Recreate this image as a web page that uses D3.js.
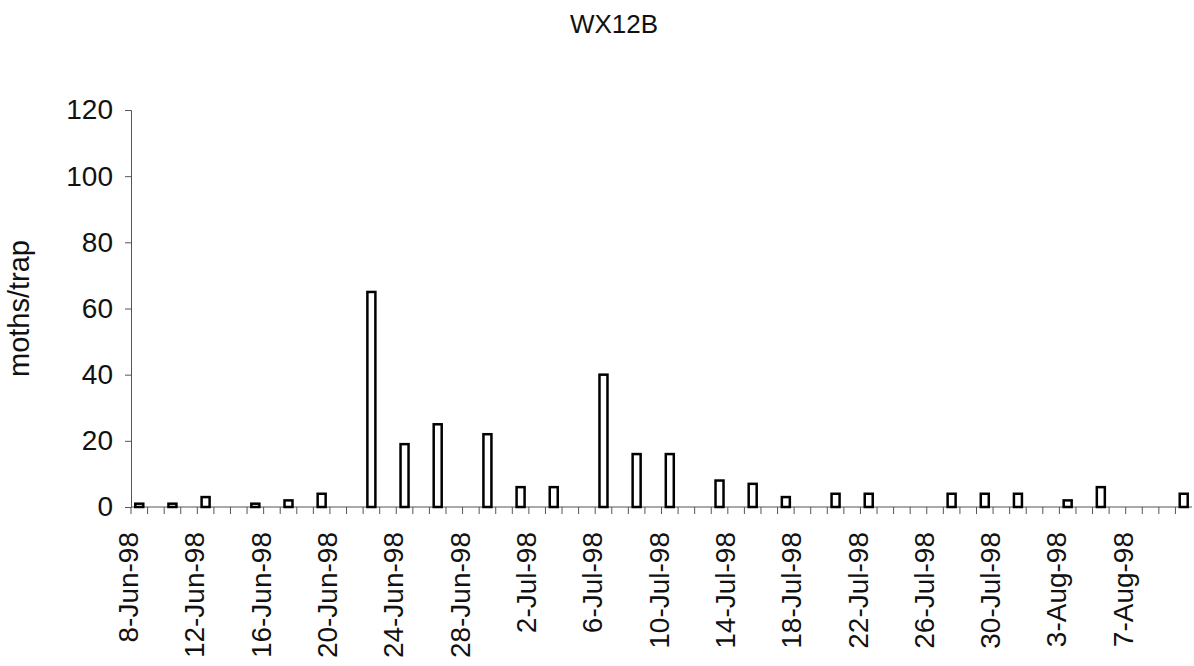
<!DOCTYPE html>
<html>
<head>
<meta charset="utf-8">
<script src="https://cdn.jsdelivr.net/npm/d3@7"></script>
<style>
body { margin: 0; background: #fff; }
text { font-family: "Liberation Sans", Arial, sans-serif; fill: #111; }
</style>
</head>
<body>
<script>
var width = 1194;
var height = 666;

// daily categories 8-Jun-98 .. 10-Aug-98
var dates = ["8-Jun-98","9-Jun-98","10-Jun-98","11-Jun-98","12-Jun-98","13-Jun-98","14-Jun-98",
"15-Jun-98","16-Jun-98","17-Jun-98","18-Jun-98","19-Jun-98","20-Jun-98","21-Jun-98","22-Jun-98",
"23-Jun-98","24-Jun-98","25-Jun-98","26-Jun-98","27-Jun-98","28-Jun-98","29-Jun-98","30-Jun-98",
"1-Jul-98","2-Jul-98","3-Jul-98","4-Jul-98","5-Jul-98","6-Jul-98","7-Jul-98","8-Jul-98","9-Jul-98",
"10-Jul-98","11-Jul-98","12-Jul-98","13-Jul-98","14-Jul-98","15-Jul-98","16-Jul-98","17-Jul-98",
"18-Jul-98","19-Jul-98","20-Jul-98","21-Jul-98","22-Jul-98","23-Jul-98","24-Jul-98","25-Jul-98",
"26-Jul-98","27-Jul-98","28-Jul-98","29-Jul-98","30-Jul-98","31-Jul-98","1-Aug-98","2-Aug-98",
"3-Aug-98","4-Aug-98","5-Aug-98","6-Aug-98","7-Aug-98","8-Aug-98","9-Aug-98","10-Aug-98"];

// trap counts (null = no count that day)
var moths = [1,null,1,null,3,null,null,1,null,2,null,4,null,null,65,
null,19,null,25,null,null,22,null,6,null,6,null,null,40,null,16,null,
16,null,null,8,null,7,null,3,null,null,4,null,4,null,null,null,
null,4,null,4,null,4,null,null,2,null,6,null,null,null,null,4];

var yTicks = [0,20,40,60,80,100,120];

var padding = {top:110,right:2,bottom:159,left:131};

var svg = d3.select("body")
.append("svg")
.attr("width",width)
.attr("height",height);

var xScale = d3.scaleBand()
.domain(dates)
.range([padding.left,width - padding.right])
.padding(0);

var yScale = d3.scaleLinear()
.domain([0,120])
.range([height - padding.bottom,padding.top]);

var bw = xScale.bandwidth();

// title
svg.append("text")
.attr("x",614)
.attr("y",33)
.attr("text-anchor","middle")
.attr("font-size","26px")
.text("WX12B");

// y axis title
svg.append("text")
.attr("transform","translate(29," + yScale(60) + ") rotate(-90)")
.attr("text-anchor","middle")
.attr("font-size","29px")
.text("moths/trap");

// y axis
var yAxis = d3.axisLeft(yScale).tickValues(yTicks).tickSize(6).tickPadding(12);
var gy = svg.append("g")
.attr("transform","translate(" + padding.left + ",0)")
.call(yAxis);
gy.selectAll("text").attr("font-size","28px").style("font-family","Liberation Sans, Arial, sans-serif").attr("fill","#111");
gy.selectAll("line,path").attr("stroke","#555");

// x axis, ticks between categories
var xAxis = d3.axisBottom(xScale).tickSize(7).tickFormat("");
var gx = svg.append("g")
.attr("transform","translate(0," + yScale(0) + ")")
.call(xAxis);
gx.selectAll(".tick line").attr("transform","translate(" + (-bw/2) + ",0)");
gx.select(".domain").attr("d","M" + padding.left + ",0H" + (width - padding.right));
gx.selectAll("line,path").attr("stroke","#555");

// date labels, every 4th day
svg.selectAll(".xlabel")
.data(dates.filter(function(d,i){ return i % 4 == 0; }))
.enter()
.append("text")
.attr("class","xlabel")
.attr("font-size","28px")
.attr("text-anchor","end")
.attr("transform",function(d){
	var cx = xScale(d) + bw/2 - 11;
	return "translate(" + cx + "," + (yScale(0) + 25) + ") rotate(-90)";
})
.attr("dy","0.35em")
.text(function(d){ return d; });

// bars
var data = dates.map(function(d,i){ return {date:d, value:moths[i]}; })
.filter(function(d){ return d.value != null; });

svg.selectAll(".bar")
.data(data)
.enter()
.append("rect")
.attr("class","bar")
.attr("x",function(d){ return xScale(d.date) + bw/2 - 4; })
.attr("y",function(d){ return yScale(d.value); })
.attr("width",8)
.attr("height",function(d){ return yScale(0) - yScale(d.value); })
.attr("fill","white")
.attr("stroke","black")
.attr("stroke-width",2.5);
</script>
</body>
</html>
